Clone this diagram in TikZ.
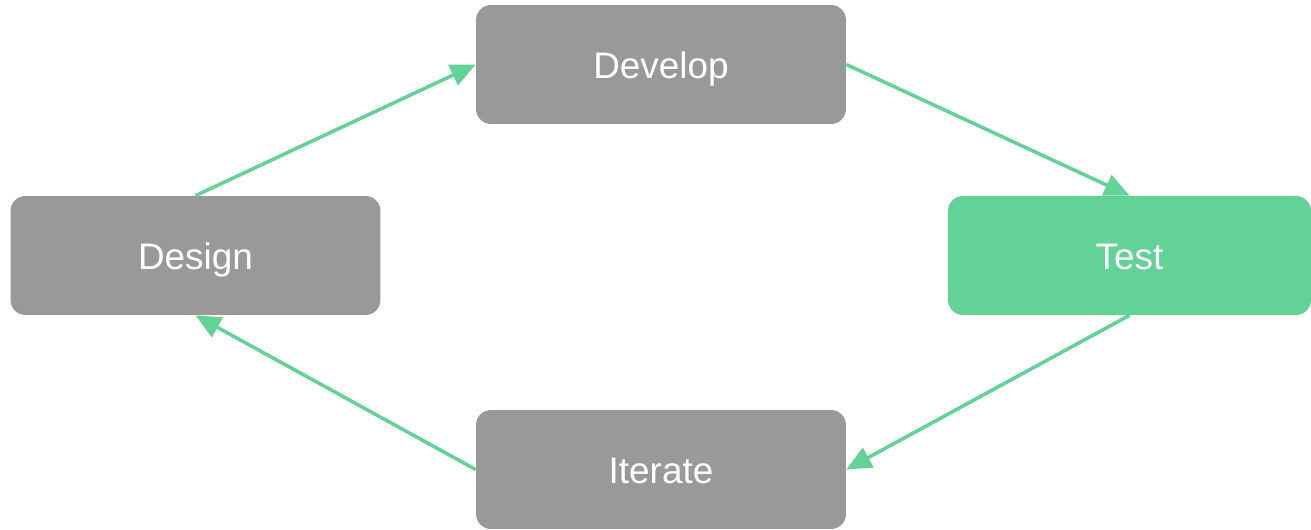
\documentclass[tikz,border=0pt]{standalone}
\usepackage{fontspec}
\setmainfont{Liberation Sans}
\usepackage{xcolor}
\usetikzlibrary{arrows.meta,positioning}

\definecolor{boxgray}{HTML}{999999}
\definecolor{testgreen}{HTML}{63D297}

\begin{document}
\begin{tikzpicture}[x=0.02cm, y=-0.02cm,
                    phase/.style={rectangle, rounded corners=0.3cm, fill=boxgray,
                                  minimum width=7.4cm, minimum height=2.38cm, inner sep=0pt,
                                  font=\fontsize{21}{25}\selectfont, text=white,
                                  text height=0.55cm, text depth=0pt},
                    flow/.style={-{Triangle[length=0.5cm, width=0.44cm]}, color=testgreen,
                                 line width=2pt}]
    \useasboundingbox (0,0) rectangle (1311,530);

   \node[phase] (develop) at (661, 64.5) {Develop};
   \node[phase] (design) at (195.5, 255.5) {Design};
   \node[phase, fill=testgreen, minimum width=7.26cm] (test) at (1129.5, 255.5) {Test};
   \node[phase] (iterate) at (661, 469.5) {Iterate};

   % Define transitions
   \draw[flow] (design.north) -- (develop.west);
   \draw[flow] (develop.east) -- (test.north);
   \draw[flow] (test.south)   -- (iterate.east);
   \draw[flow] (iterate.west) -- (design.south);

\end{tikzpicture}
\end{document}
